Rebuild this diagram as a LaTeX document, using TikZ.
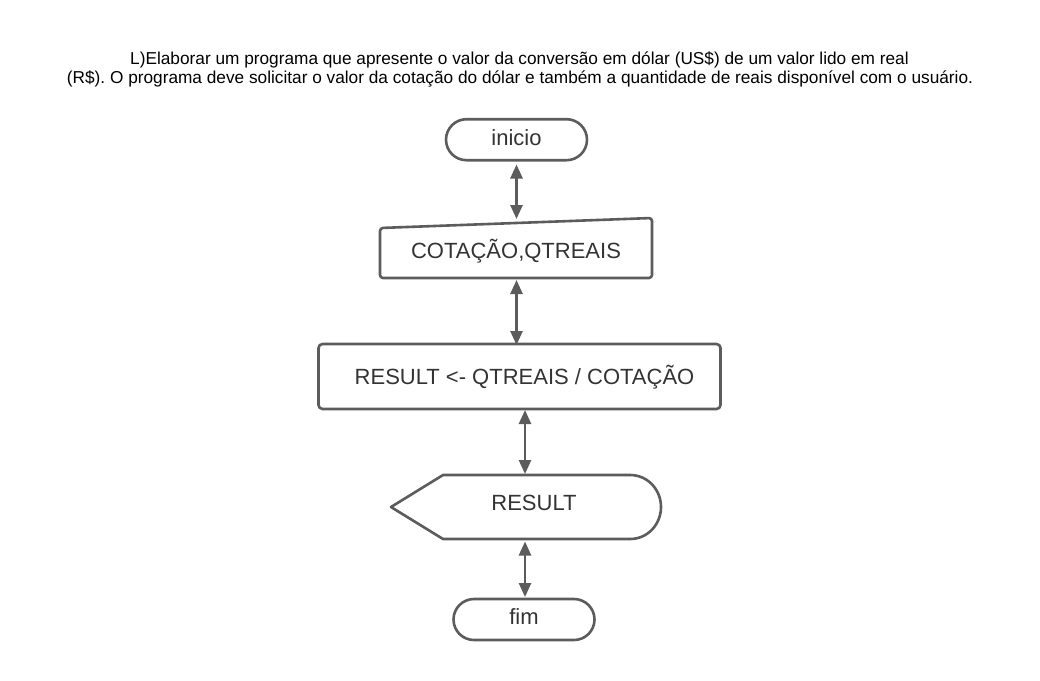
\documentclass[tikz,border=0pt]{standalone}
\usepackage{fontspec}
\setmainfont{Liberation Sans}
\usetikzlibrary{shapes.misc,arrows.meta}
\definecolor{lc}{HTML}{5C5C5C}
\definecolor{tc}{HTML}{333333}
\frenchspacing
\begin{document}
\begin{tikzpicture}[x=1pt,y=-1pt,
  shapeline/.style={draw=lc,line width=2.6pt,line join=round},
  term/.style={shapeline,rounded rectangle,minimum width=141pt,minimum height=41pt,inner sep=0pt},
  lbl/.style={text=tc,font=\fontsize{22}{26}\selectfont,inner sep=0pt},
  ttl/.style={text=black,font=\fontsize{17.25}{20}\selectfont,inner sep=0pt},
  conn/.style={draw=lc,line width=2.6pt,{Triangle[length=14pt,width=12pt]}-{Triangle[length=14pt,width=12pt]}}]
\useasboundingbox[fill=white] (0,0) rectangle (1040,680);

% title
\node[ttl] (t1) at (519.5,59.5) {L)Elaborar um programa que apresente o valor da conversão em dólar (US\$) de um valor lido em real};
\node[ttl] (t2) at (520,78.5) {(R\$). O programa deve solicitar o valor da cotação do dólar e também a quantidade de reais disponível com o usuário.};

% inicio
\node[term,lbl] (inicio) at (516.5,139.7) {\raisebox{5pt}{inicio}};

% manual input
\draw[shapeline,rounded corners=3pt] (380,228) -- (652,218) -- (652,278) -- (380,278) -- cycle;
\node[lbl] (entrada) at (516,251) {COTAÇÃO,QTREAIS};
\coordinate (entrada-top) at (516.5,219);
\coordinate (entrada-bot) at (516.5,280);

% process
\node[shapeline,rounded corners=4pt,minimum width=402pt,minimum height=65pt,inner sep=0pt] (proc) at (519.5,376.5) {};
\node[lbl] (proctext) at (524.5,377) {RESULT <- QTREAIS / COTAÇÃO};
\coordinate (proc-top) at (516.5,345);
\coordinate (proc-bot) at (525,410);

% display
\draw[shapeline] (391,507) -- (443,475) -- (630,475)
  .. controls (648,475) and (661,490) .. (661,507)
  .. controls (661,524) and (648,539) .. (630,539) -- (443,539) -- cycle;
\node[lbl] (saida) at (534,503) {RESULT};
\coordinate (saida-top) at (525,474);
\coordinate (saida-bot) at (525,541.5);

% fim
\node[term,lbl] (fim) at (524,619.5) {\raisebox{5pt}{fim}};
\coordinate (fim-top) at (525,597);

% connectors
\draw[conn,shorten <=3pt] (inicio.south) -- (entrada-top);
\draw[conn] (entrada-bot) -- (proc-top);
\draw[conn] (proc-bot) -- (saida-top);
\draw[conn] (saida-bot) -- (fim-top);
\end{tikzpicture}
\end{document}
